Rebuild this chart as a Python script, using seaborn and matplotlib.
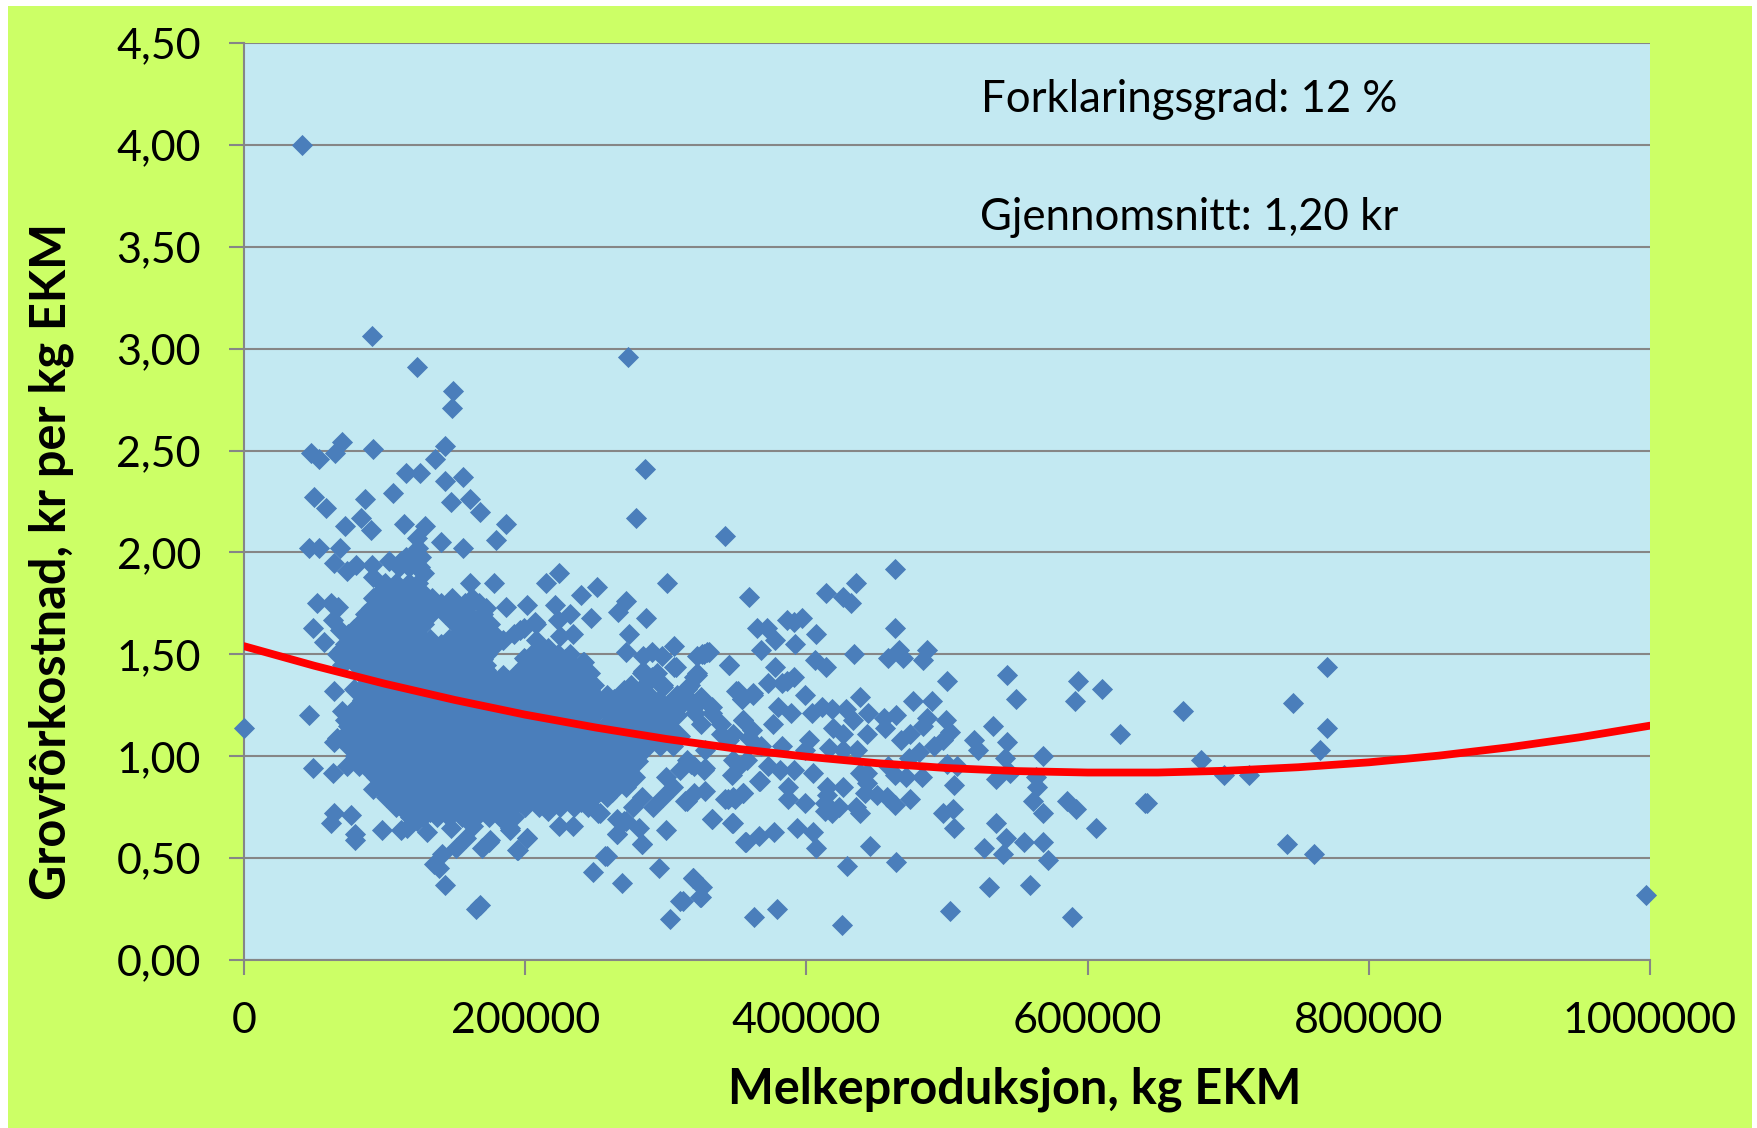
import numpy as np
import pandas as pd
import seaborn as sns
import matplotlib.pyplot as plt
from matplotlib.patches import Rectangle

# Verdier lest av bildet, x i tusen kg EKM
top_x = [41, 0, 91, 123, 149, 148, 273, 285, 279, 342, 70, 65, 48, 53, 92, 143, 136, 115, 125, 143, 156,
         106, 50, 58, 86, 147, 161, 168, 83, 72, 90, 114, 129, 186, 179, 140, 156, 46, 53, 68, 123, 124,
         64, 73, 80, 91, 103, 92, 112, 119, 125, 128, 99, 161, 178, 215, 224, 240, 251, 301, 272, 266,
         286, 274, 52, 62, 67, 49, 57, 63, 68, 186, 201, 221, 232, 223, 247, 208, 196, 234, 225, 272,
         284, 290, 297, 306, 283, 306, 298, 290, 241, 246, 322, 315, 320]
top_y = [4.00, 1.14, 3.06, 2.91, 2.79, 2.71, 2.96, 2.41, 2.17, 2.08, 2.54, 2.49, 2.49, 2.46, 2.51, 2.52, 2.46,
         2.39, 2.39, 2.35, 2.37, 2.29, 2.27, 2.22, 2.26, 2.25, 2.26, 2.20, 2.17, 2.13, 2.11, 2.14, 2.13, 2.14,
         2.06, 2.05, 2.02, 2.02, 2.02, 2.02, 2.07, 2.02, 1.95, 1.91, 1.94, 1.94, 1.96, 1.88, 1.96, 1.98, 1.93,
         1.90, 1.84, 1.85, 1.85, 1.85, 1.90, 1.79, 1.83, 1.85, 1.76, 1.71, 1.68, 1.60, 1.75, 1.75, 1.73, 1.63,
         1.56, 1.67, 1.62, 1.73, 1.74, 1.74, 1.70, 1.67, 1.68, 1.65, 1.62, 1.60, 1.59, 1.51, 1.49, 1.51, 1.49,
         1.54, 1.41, 1.44, 1.35, 1.39, 1.46, 1.41, 1.49, 1.33, 1.39]

low_x = [46, 64, 78, 85, 70, 78, 72, 64, 66, 77, 49, 63, 73, 87, 92, 94, 64, 76, 62, 79, 79, 98, 112, 116,
         130, 104, 116, 123, 147, 158, 151, 163, 141, 135, 139, 143, 168, 165, 169, 175, 189, 184, 201,
         194, 217, 224, 234, 252, 265, 270, 283, 258, 248, 269, 295, 300, 319, 310, 303, 325, 277, 291, 315]
low_y = [1.20, 1.32, 1.33, 1.32, 1.22, 1.23, 1.18, 1.07, 1.09, 1.06, 0.94, 0.92, 0.95, 0.96, 0.84, 0.90, 0.72,
         0.71, 0.67, 0.62, 0.59, 0.64, 0.64, 0.65, 0.63, 0.79, 0.72, 0.68, 0.65, 0.60, 0.55, 0.66, 0.52, 0.47,
         0.45, 0.37, 0.27, 0.25, 0.55, 0.59, 0.64, 0.70, 0.60, 0.54, 0.80, 0.66, 0.66, 0.72, 0.62, 0.68, 0.57,
         0.51, 0.43, 0.38, 0.45, 0.64, 0.40, 0.29, 0.20, 0.31, 0.75, 0.75, 0.78]

mid_x = [359, 463, 435, 414, 426, 432, 365, 372, 378, 386, 391, 397, 407, 392, 368, 463, 466, 458, 469, 486,
         483, 434, 406, 414, 345, 378, 329, 326, 322, 317, 326, 315, 391, 386, 373, 383, 351, 362, 354, 399,
         438, 500, 543, 549, 593, 610, 591, 476, 489, 533, 519, 522, 543, 541, 568, 404, 411, 418, 428, 433,
         444, 455, 464, 456, 443, 419, 426, 486, 483, 499, 502, 497, 474, 467, 491, 480, 473, 402, 383, 399,
         416, 426, 436, 380, 389, 376, 355, 361, 359, 333, 321, 325, 339, 345, 368, 328, 315, 320, 328, 358,
         352, 347, 373, 381, 391, 405, 366, 387, 426, 415, 355, 344, 349, 328, 320, 314, 387, 399, 415, 413,
         423, 413, 418, 435, 438, 333, 348, 356, 366, 377, 393, 405, 407, 445, 429, 464, 319, 326, 324, 312,
         363, 379, 425, 502, 530, 559, 589, 526, 540, 542, 555, 568, 572, 535, 505, 504, 497, 561, 568, 585,
         592, 606, 642, 505, 535, 545, 563, 564, 442, 450, 457, 463, 474, 443, 443, 438, 458, 463, 471, 482,
         500, 507]
mid_y = [1.78, 1.92, 1.85, 1.80, 1.78, 1.75, 1.63, 1.63, 1.57, 1.67, 1.66, 1.68, 1.60, 1.55, 1.52, 1.63, 1.52,
         1.48, 1.48, 1.52, 1.47, 1.50, 1.47, 1.44, 1.45, 1.44, 1.51, 1.50, 1.40, 1.35, 1.28, 1.29, 1.39, 1.37,
         1.36, 1.36, 1.32, 1.31, 1.28, 1.30, 1.29, 1.37, 1.40, 1.28, 1.37, 1.33, 1.27, 1.27, 1.27, 1.15, 1.08,
         1.03, 1.07, 0.99, 1.00, 1.21, 1.24, 1.23, 1.23, 1.18, 1.21, 1.19, 1.20, 1.14, 1.11, 1.14, 1.11, 1.19,
         1.15, 1.18, 1.12, 1.08, 1.11, 1.08, 1.05, 1.02, 0.99, 1.08, 1.05, 1.03, 1.04, 1.03, 1.03, 1.24, 1.21,
         1.16, 1.18, 1.13, 1.09, 1.21, 1.21, 1.16, 1.11, 1.08, 1.05, 1.03, 0.98, 0.95, 0.94, 0.98, 0.95, 0.91,
         0.95, 0.93, 0.93, 0.92, 0.88, 0.85, 0.85, 0.85, 0.82, 0.79, 0.79, 0.83, 0.82, 0.78, 0.79, 0.77, 0.81,
         0.77, 0.75, 0.73, 0.72, 0.75, 0.72, 0.69, 0.67, 0.58, 0.61, 0.63, 0.65, 0.63, 0.55, 0.56, 0.46, 0.48,
         0.40, 0.36, 0.31, 0.29, 0.21, 0.25, 0.17, 0.24, 0.36, 0.37, 0.21, 0.55, 0.52, 0.60, 0.58, 0.58, 0.49,
         0.67, 0.65, 0.74, 0.72, 0.78, 0.72, 0.78, 0.74, 0.65, 0.77, 0.86, 0.89, 0.92, 0.90, 0.85, 0.82, 0.81,
         0.80, 0.76, 0.79, 0.87, 0.92, 0.92, 0.95, 0.91, 0.90, 0.90, 0.96, 0.95]

right_x = [668, 623, 746, 770, 770, 765, 681, 697, 715, 641, 742, 761, 997]
right_y = [1.22, 1.11, 1.26, 1.44, 1.14, 1.03, 0.98, 0.91, 0.91, 0.77, 0.57, 0.52, 0.32]

# Enkeltpunkt i kanten av skya mellom 170 og 360
edge_x = [207, 199, 192, 184, 208, 216, 327, 331, 345, 242, 227, 199, 208, 284, 294, 307, 322, 316, 298, 325, 333,
          308, 320, 263, 270, 350, 362, 354, 339, 348, 355, 348, 355, 348, 342, 367, 318, 327, 310, 333, 347, 357,
          283, 265, 281, 272, 265, 253, 216, 235, 250, 201, 195, 174, 189, 182, 257]
edge_y = [1.66, 1.63, 1.60, 1.57, 1.57, 1.53, 1.50, 1.51, 1.45, 1.46, 1.47, 1.48, 1.49, 1.42, 1.41, 1.44, 1.41, 1.34,
          1.34, 1.29, 1.24, 1.30, 1.24, 1.28, 1.26, 1.32, 1.30, 1.28, 1.16, 1.11, 1.18, 0.98, 0.82, 0.80, 0.79, 0.88,
          0.96, 0.93, 0.93, 0.69, 0.67, 0.58, 0.57, 0.62, 0.65, 0.68, 0.69, 0.72, 0.73, 0.79, 0.82, 0.60, 0.54, 0.58,
          0.65, 0.70, 0.51]

# Den tette skya, rad for rad
cloud_levels = [1.98, 1.93, 1.85, 1.80, 1.775, 1.75, 1.725, 1.70, 1.675, 1.65, 1.625, 1.60, 1.575, 1.55, 1.525, 1.50,
                1.475, 1.45, 1.425, 1.40, 1.375, 1.35, 1.325, 1.30, 1.275, 1.25, 1.225, 1.20, 1.175, 1.15, 1.125,
                1.10, 1.075, 1.05, 1.025, 1.00, 0.975, 0.95, 0.925, 0.90, 0.875, 0.85, 0.825, 0.80, 0.775, 0.75,
                0.725, 0.70]
cloud_rows = [
    [115, 121, 126],
    [110, 117, 123],
    [100, 108, 117, 124],
    [96, 104, 111, 119, 127],
    [92, 106, 120, 134, 148, 162],
    [96, 105, 113, 122, 131, 140, 149, 157, 167],
    [90, 104, 118, 132, 146, 158, 172],
    [86, 94, 101, 109, 116, 124, 133, 143, 152, 160, 170],
    [86, 100, 114, 124, 154, 168],
    [82, 90, 98, 106, 113, 121, 128, 150, 158, 167, 175],
    [78, 92, 106, 120, 158, 172],
    [74, 83, 92, 100, 108, 116, 124, 152, 161, 170, 178],
    [76, 90, 104, 118, 132, 146, 160, 174],
    [72, 80, 88, 97, 105, 113, 121, 130, 140, 150, 160, 170, 179],
    [70, 84, 98, 112, 126, 140, 154, 168],
    [66, 76, 86, 94, 102, 110, 119, 128, 137, 147, 156, 165, 173, 205, 214, 223, 232],
    [72, 86, 100, 114, 128, 142, 156, 170, 200, 214, 228],
    [70, 80, 90, 99, 108, 117, 126, 135, 145, 154, 163, 172, 200, 209, 218, 226, 234],
    [88, 102, 116, 130, 144, 158, 172, 205, 219, 233],
    [84, 94, 103, 112, 121, 130, 139, 148, 157, 166, 175, 184, 193, 202, 211, 220, 229, 238],
    [90, 104, 118, 132, 146, 160, 174, 188, 202, 216, 230, 244],
    [86, 96, 105, 114, 123, 132, 141, 150, 159, 168, 177, 186, 195, 204, 213, 222, 231, 240, 249, 275, 285],
    [92, 106, 120, 134, 148, 162, 176, 190, 204, 218, 232, 246, 270, 282],
    [87, 95, 104, 113, 121, 130, 140, 149, 158, 167, 176, 186, 195, 204, 212, 221, 231, 240, 249, 258, 268, 278, 288],
    [84, 98, 112, 126, 140, 154, 168, 182, 196, 210, 224, 238, 252, 285, 295],
    [82, 91, 100, 110, 119, 128, 137, 146, 155, 164, 173, 182, 191, 200, 210, 219, 228, 237, 246, 255, 264, 273, 282,
     292, 301, 311],
    [80, 94, 108, 122, 136, 150, 164, 178, 192, 206, 220, 234, 248, 262, 276, 290, 304],
    [76, 85, 95, 104, 113, 122, 131, 141, 150, 159, 168, 177, 187, 196, 205, 214, 223, 232, 241, 250, 260, 269, 279,
     288, 297, 308],
    [78, 92, 106, 120, 134, 148, 162, 176, 190, 204, 218, 232, 246, 260, 274, 288, 300],
    [74, 83, 92, 101, 110, 120, 129, 138, 147, 156, 165, 175, 184, 193, 202, 211, 221, 230, 239, 248, 257, 266, 276,
     285, 294, 303],
    [75, 89, 103, 117, 131, 145, 159, 173, 187, 201, 215, 229, 243, 257, 271, 285, 299],
    [71, 80, 89, 99, 108, 117, 126, 135, 145, 154, 163, 172, 181, 190, 200, 209, 218, 227, 236, 246, 255, 264, 273,
     282, 292, 301, 310],
    [76, 90, 104, 118, 132, 146, 160, 174, 188, 202, 216, 230, 254, 268, 282, 296],
    [74, 84, 93, 102, 111, 121, 130, 139, 148, 157, 167, 176, 185, 194, 203, 213, 222, 231, 240, 249, 259, 268, 277,
     287, 296, 305],
    [80, 94, 108, 122, 136, 150, 164, 178, 192, 206, 220, 234, 248, 262, 276],
    [79, 88, 97, 106, 116, 125, 134, 143, 152, 162, 171, 180, 189, 198, 208, 217, 226, 235, 245, 254, 263, 272, 280],
    [84, 98, 112, 126, 140, 154, 168, 182, 196, 210, 224, 238, 252, 266, 280],
    [82, 92, 101, 110, 119, 129, 138, 147, 156, 165, 175, 184, 193, 202, 212, 221, 230, 239, 249, 258, 267, 276],
    [90, 104, 118, 132, 146, 160, 174, 188, 202, 216, 230, 244, 258, 272],
    [95, 104, 113, 123, 132, 141, 150, 159, 169, 178, 187, 196, 206, 215, 224, 233, 243, 252, 261, 271, 278, 300],
    [100, 114, 128, 142, 156, 170, 184, 198, 212, 226, 240, 254, 268],
    [96, 105, 115, 124, 133, 142, 151, 161, 170, 179, 188, 198, 207, 216, 225, 235, 244, 253, 263, 272, 305],
    [105, 119, 133, 147, 161, 175, 189, 203, 217, 231, 245, 262],
    [101, 110, 119, 128, 138, 147, 156, 165, 175, 184, 193, 202, 212, 221, 230, 240, 249, 258, 283, 298],
    [112, 126, 140, 154, 168, 182, 196, 210, 226, 240],
    [108, 117, 126, 136, 145, 154, 163, 173, 182, 191, 200, 210, 225, 235, 245],
    [118, 132, 146, 160, 174, 186],
    [118, 127, 137, 146, 155, 165, 174, 183, 192],
]

# Trendlinja lest av bildet
trend_x = [0, 50, 100, 150, 200, 250, 300, 350, 400, 450, 500, 550, 600, 650, 700, 750, 800, 850, 900, 950, 1000]
trend_y = [1.54, 1.444, 1.356, 1.276, 1.204, 1.141, 1.085, 1.037, 0.998, 0.966, 0.942, 0.927, 0.920, 0.920, 0.929,
           0.946, 0.970, 1.003, 1.044, 1.093, 1.15]

x_ticks = [0, 200000, 400000, 600000, 800000, 1000000]
x_labels = ['0', '200000', '400000', '600000', '800000', '1000000']
y_ticks = [0, 0.5, 1, 1.5, 2, 2.5, 3, 3.5, 4, 4.5]
y_labels = ['0,00', '0,50', '1,00', '1,50', '2,00', '2,50', '3,00', '3,50', '4,00', '4,50']

cloud_x = [v for row in cloud_rows for v in row]
cloud_y = [lvl for lvl, row in zip(cloud_levels, cloud_rows) for _ in row]
df = pd.DataFrame({
    'x': np.array(top_x + low_x + mid_x + right_x + edge_x + cloud_x) * 1000,
    'y': top_y + low_y + mid_y + right_y + edge_y + cloud_y,
})
trend = pd.DataFrame({'x': np.array(trend_x) * 1000, 'y': trend_y})

W, H = 1758, 1128
sns.set_theme(style='white')
plt.rcParams['font.family'] = ['Lato', 'DejaVu Sans']

GREY = '#868686'
fig = plt.figure(figsize=(W / 100, H / 100), dpi=100, facecolor='white')
fig.add_artist(Rectangle((8 / W, 0), 1744 / W, 1122 / H, transform=fig.transFigure,
                         facecolor='#CCFF66', edgecolor='none', zorder=-5))
ax = fig.add_axes([244 / W, 1 - 960 / H, 1406 / W, 917 / H], facecolor='#C3E9F2')

sns.scatterplot(data=df, x='x', y='y', marker='D', s=116, color='#4A7EBB', linewidth=0,
                clip_on=False, zorder=3, legend=False, ax=ax)
sns.lineplot(data=trend, x='x', y='y', color='#FF0000', linewidth=5.6, zorder=4, errorbar=None, ax=ax)

ax.set_xlim(0, 1000000)
ax.set_ylim(0, 4.5)
ax.set_xticks(x_ticks, x_labels)
ax.set_yticks(y_ticks, y_labels)
ax.grid(axis='y', color=GREY, linewidth=1.5, zorder=1)
ax.set_axisbelow(True)
ax.tick_params(axis='both', length=11, width=1.5, color=GREY, labelsize=31, labelcolor='black', bottom=True, left=True)
ax.tick_params(axis='x', pad=19)
ax.tick_params(axis='y', pad=20)
for side in ['top', 'right']:
    ax.spines[side].set_visible(False)
for side in ['left', 'bottom']:
    ax.spines[side].set_color(GREY)
    ax.spines[side].set_linewidth(1.5)

ax.set_xlabel('Melkeproduksjon, kg EKM', fontsize=35, fontweight='bold', color='black', va='center')
ax.set_ylabel('Grovfôrkostnad, kr per kg EKM', fontsize=35, fontweight='bold', color='black', va='center')
ax.xaxis.set_label_coords(771 / 1406, -129 / 917)
ax.yaxis.set_label_coords(-193 / 1406, 399 / 917)

ax.text(945 / 1406, 1 - 57 / 917, 'Forklaringsgrad: 12 %', transform=ax.transAxes, ha='center', va='center',
        fontsize=31.5, color='black')
ax.text(945 / 1406, 1 - 175 / 917, 'Gjennomsnitt: 1,20 kr', transform=ax.transAxes, ha='center', va='center',
        fontsize=31.5, color='black')

fig.savefig('out.png', dpi=100)
plt.close('all')
